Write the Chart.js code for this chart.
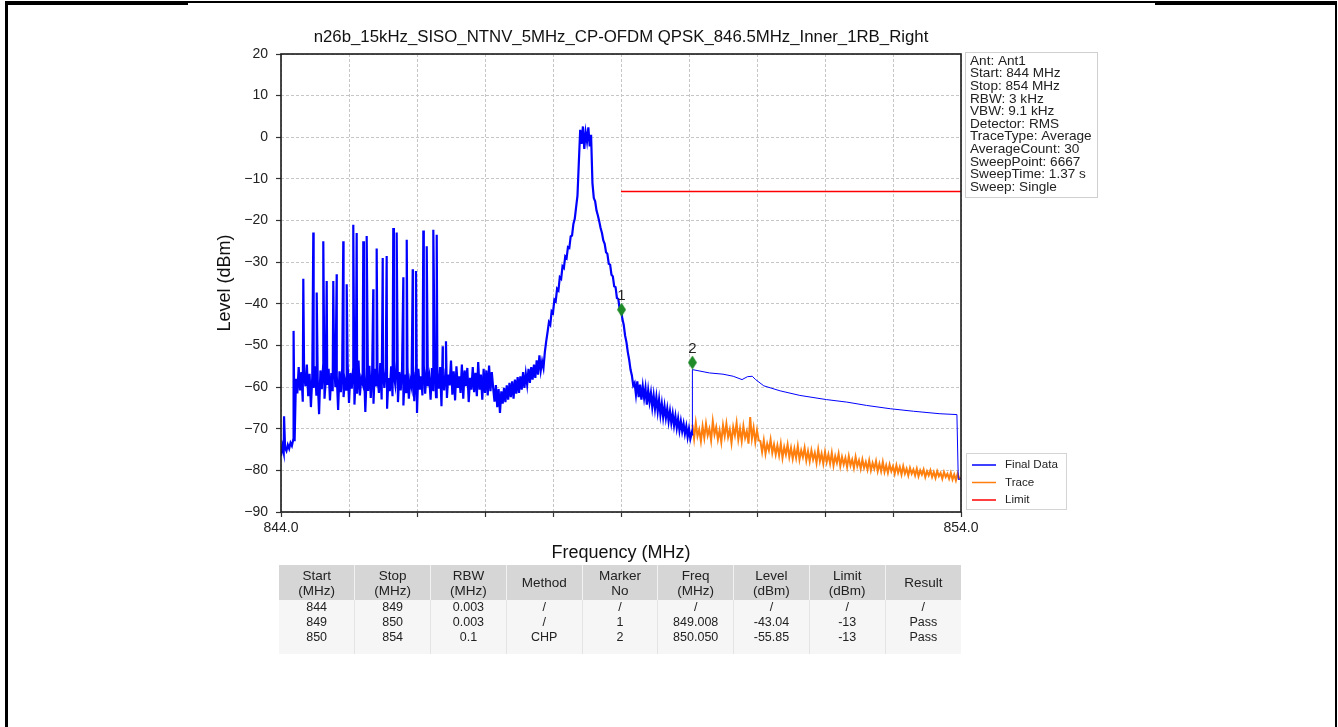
<!DOCTYPE html>
<html>
<head>
<meta charset="utf-8">
<title>n26b spectrum</title>
<script src="https://cdn.jsdelivr.net/npm/chart.js@4.4.1/dist/chart.umd.min.js"></script>
<style>
  html, body { margin: 0; padding: 0; background: #fff; }
  body { width: 1338px; height: 727px; position: relative; overflow: hidden; font-family: "Liberation Sans", Arial, sans-serif; }
  #frame { position: absolute; left: 5px; top: 1px; width: 1332px; height: 760px; box-sizing: border-box;
           border-top: 4px solid #000; border-left: 3px solid #000; border-right: 2px solid #000; }
  #frameThin { position: absolute; left: 188px; top: 3px; width: 967px; height: 2px; background: #fff; }
  #wrap { position: absolute; left: 0; top: 0; width: 1338px; height: 727px; }
  #tbl { position: absolute; left: 279px; top: 565px; width: 682px; border-collapse: collapse; table-layout: fixed; color: #222; }
  #tbl th { background: #d6d6d6; font-weight: normal; font-size: 13.5px; line-height: 15px; height: 35px; padding: 0;
            border-right: 1px solid #f2f2f2; text-align: center; }
  #tbl td { background: #f6f6f6; font-size: 12.5px; line-height: 15px; height: 15px; padding: 0;
            border-right: 1px solid #e4e4e4; text-align: center; }
  #tbl tr.pad td { height: 9px; }
  #tbl th:last-child, #tbl td:last-child { border-right: none; }
</style>
</head>
<body>
<div id="frame"></div>
<div id="frameThin"></div>
<div id="wrap"><canvas id="spectrum"></canvas></div>
<table id="tbl"><thead></thead><tbody></tbody></table>

<script>
// ---- chart data ----
const chartTitle = "n26b_15kHz_SISO_NTNV_5MHz_CP-OFDM QPSK_846.5MHz_Inner_1RB_Right";

// x tick labels: only the span ends are labelled
const xLabelValues = [844, 854];
const xTickText = ["844.0", "854.0"];

// blue trace, 844.00 .. 847.12 MHz, one value every 0.02 MHz
const lowBandStart = 844.0;
const binStep = 0.02;
const lowBandLevels = [
  -76.5, -74.2, -75.8, -74.6, -75.3, -73.9, -74.8, -73.4, -74.1, -72.6,
  -73.0,
  -58.0, -61.5, -55.2, -60.8, -56.4, -63.5, -57.0, -59.8, -54.6, -62.2,
  -56.8, -64.8, -57.5, -60.2, -55.0, -61.8, -58.2, -66.5, -56.0, -60.5,
  -54.8, -62.8, -57.8, -59.5, -55.6, -63.2, -56.6, -61.0, -53.8, -60.0,
  -57.2, -65.5, -56.2, -61.2, -55.4, -62.4, -58.6, -60.6, -54.4, -63.8,
  -56.6, -60.4, -55.8, -64.2, -57.4, -61.6, -53.6, -62.0, -58.0, -59.2,
  -55.2, -66.0, -57.0, -60.9, -54.9, -62.6, -56.8, -64.0, -55.6, -59.6,
  -57.6, -61.4, -54.2, -63.0, -56.2, -60.2, -55.4, -65.2, -57.8, -61.0,
  -55.0, -62.2, -57.2, -59.4, -54.0, -63.6, -56.4, -60.8, -55.8, -64.4,
  -57.0, -61.2, -55.2, -62.8, -58.4, -60.0, -54.6, -63.4, -56.6, -66.2,
  -55.6, -60.6, -57.4, -62.0, -54.8, -61.6, -56.0, -59.8, -57.6, -63.0,
  -55.4, -61.0, -53.8, -62.4, -56.8, -60.4, -55.2, -64.6, -57.2, -60.8,
  -55.8, -62.6, -57.0, -59.6, -53.6, -61.8, -56.2, -63.2, -55.0, -60.2,
  -57.4, -61.4, -54.6, -62.8, -56.0, -59.8, -55.4, -63.6, -57.8, -60.6,
  -55.2, -61.2, -56.6, -62.2, -54.0, -60.6, -57.0, -63.0, -55.6, -61.4,
  -56.0, -62.0, -54.8, -61.0, -56.4, -60.2
];

// narrow spurs sitting on the low band
const spikeFreqs = [
  844.045, 844.185, 844.328, 844.475, 844.525, 844.622, 844.672, 844.769, 844.819, 844.916,
  844.966, 845.063, 845.113, 845.210, 845.260, 845.357, 845.407, 845.496, 845.554, 845.651,
  845.701, 845.799, 845.849, 845.937, 845.985, 846.093, 846.143, 846.240, 846.290, 846.378,
  846.426
];
const spikeLevels = [
  -67.0, -46.5, -34.0, -22.9, -37.3, -25.0, -34.5, -34.5, -32.9, -25.0,
  -35.3, -21.0, -23.0, -25.0, -23.7, -36.5, -26.7, -29.0, -28.5, -21.8,
  -22.9, -33.6, -24.6, -31.7, -32.1, -22.4, -26.2, -22.2, -23.4, -50.2,
  -49.0
];

// blue trace, 847.14 .. 850.04 MHz (carrier and skirts), every 0.02 MHz
const carrierStart = 847.14;
const carrierLevels = [
  -63.5, -59.5, -64.8, -60.5, -66.2, -61.0, -64.0, -60.2, -63.6,
  -59.6, -63.0, -59.0, -62.4, -58.6, -62.8, -58.2, -61.6, -57.6, -61.4,
  -57.4, -60.6, -56.4, -60.2, -56.8, -59.4, -55.6, -59.0, -55.2, -58.2,
  -54.6, -57.8, -53.6, -57.0, -52.4, -56.0, -53.8, -55.4, -51.6,
  -49.0, -46.8, -44.4, -45.0, -41.8, -42.2, -39.0, -39.4, -36.4, -36.8,
  -33.6, -34.0, -31.0, -31.4, -28.6, -29.0, -26.4, -26.6, -23.8, -23.6,
  -20.8, -19.6, -16.8, -14.0, -6.0,
  1.8, -1.6, 2.6, -2.8, 1.2, -1.0, 2.4, -2.2, 0.6,
  -11.0, -14.6, -15.4, -17.6, -18.8, -20.2, -21.8, -23.0, -24.8, -25.6,
  -27.6, -28.0, -30.4, -30.6, -33.0, -33.4, -35.8, -36.0, -38.6, -38.8,
  -41.2, -41.4, -43.6, -45.0, -47.6, -49.2, -51.6, -53.4, -55.8, -57.2,
  -59.6, -59.0,
  -61.8, -58.6, -62.4, -59.4, -63.0, -59.8, -62.6, -60.2, -64.2, -60.8,
  -63.6, -61.4, -64.8, -62.0, -65.2, -62.4, -65.8, -63.0, -66.6, -64.0,
  -67.2, -64.6, -67.4, -65.2, -68.2, -65.8, -68.6, -66.4, -69.2, -67.0,
  -69.8, -67.6, -70.4, -68.2, -70.6, -68.8, -71.2, -69.4, -72.0, -70.0,
  -72.4, -71.0
];

// blue channel-power result line, 850.05 .. 854 MHz
const chpFreqs = [850.05, 850.05, 850.30, 850.50, 850.65, 850.78, 850.86, 850.93, 850.98, 851.10,
  851.34, 851.63, 852.02, 852.32, 852.61, 852.96, 853.30, 853.69, 853.94, 853.96, 854.0];
const chpLevels = [-71.6, -55.8, -56.6, -56.9, -57.4, -58.2, -57.5, -57.4, -58.2, -59.7,
  -60.9, -62.0, -63.0, -63.6, -64.4, -65.2, -65.8, -66.4, -66.6, -82.2, -82.0];

// orange trace, 850.05 .. 854.00 MHz, every 0.025 MHz
const traceStart = 850.05;
const traceStep = 0.025;
const traceLevels = [
  -69.0, -72.4, -68.6, -71.8, -70.2, -73.0, -69.4, -72.2, -68.8, -71.6,
  -70.0, -72.8, -68.2, -71.4, -69.6, -72.6, -70.4, -73.2, -69.2, -71.8,
  -68.8, -72.0, -70.2, -73.4, -69.6, -71.6, -68.6, -72.6, -70.0, -73.0,
  -69.4, -72.2, -70.6, -73.6, -67.2, -72.4, -69.8, -73.2, -70.4, -72.8,
  -73.0, -75.6, -72.8, -76.0, -73.6, -75.2, -72.6, -75.8, -73.8, -76.2,
  -74.0, -76.4, -73.6, -77.0, -74.4, -76.2, -73.8, -76.8, -74.6, -77.2,
  -74.8, -77.0, -74.2, -77.4, -75.2, -76.8, -74.6, -77.6, -75.4, -77.8,
  -75.2, -77.4, -75.8, -78.2, -75.0, -77.8, -76.0, -78.4, -75.6, -78.0,
  -76.2, -78.4, -75.8, -78.8, -76.6, -78.2, -76.0, -79.0, -76.8, -78.6,
  -77.0, -79.2, -76.6, -78.8, -77.4, -79.4, -76.8, -79.0, -77.6, -79.6,
  -77.4, -79.4, -78.0, -79.8, -77.6, -80.0, -78.2, -79.6, -77.8, -80.2,
  -78.4, -80.2, -78.0, -80.4, -78.8, -80.6, -78.6, -80.2, -79.0, -80.8,
  -78.8, -80.6, -79.2, -81.0, -79.0, -80.8, -79.6, -81.2, -79.4, -80.8,
  -79.8, -81.2, -79.6, -81.4, -80.0, -81.0, -79.8, -81.6, -80.2, -81.2,
  -80.0, -81.6, -80.4, -81.8, -80.2, -81.4, -80.6, -82.0, -80.4, -81.6,
  -80.8, -82.0, -80.6, -82.2, -81.0, -82.4, -80.8, -82.0,
  -81.8
];

// limit line
const limitFreqs = [849, 854];
const limitLevels = [-13, -13];

// markers as drawn on the plot
const markerNames = ["1", "2"];
const markerFreqs = [849.008, 850.05];
const markerLevels = [-41.4, -54.1];

// info box and legend texts
const infoLines = ["Ant: Ant1", "Start: 844 MHz", "Stop: 854 MHz", "RBW: 3 kHz", "VBW: 9.1 kHz",
  "Detector: RMS", "TraceType: Average", "AverageCount: 30", "SweepPoint: 6667",
  "SweepTime: 1.37 s", "Sweep: Single"];

// result table
const tableHeader = ["Start<br>(MHz)", "Stop<br>(MHz)", "RBW<br>(MHz)", "Method", "Marker<br>No",
  "Freq<br>(MHz)", "Level<br>(dBm)", "Limit<br>(dBm)", "Result"];
const tableRows = [
  ["844", "849", "0.003", "/", "/", "/", "/", "/", "/"],
  ["849", "850", "0.003", "/", "1", "849.008", "-43.04", "-13", "Pass"],
  ["850", "854", "0.1", "CHP", "2", "850.050", "-55.85", "-13", "Pass"]
];

// ---- build point lists ----
function binned(start, step, levels) {
  return levels.map((v, i) => ({ x: +(start + i * step).toFixed(4), y: v }));
}
function paired(freqs, levels) {
  return freqs.map((f, i) => ({ x: f, y: levels[i] }));
}

const lowBand = binned(lowBandStart, binStep, lowBandLevels)
  .concat(paired(spikeFreqs, spikeLevels))
  .sort((a, b) => a.x - b.x);
const finalData = lowBand
  .concat(binned(carrierStart, binStep, carrierLevels))
  .concat(paired(chpFreqs, chpLevels));
const traceData = binned(traceStart, traceStep, traceLevels);
const limitData = paired(limitFreqs, limitLevels);
const markerData = paired(markerFreqs, markerLevels);

const FONT = '"Liberation Sans", Arial, sans-serif';
const legendItems = [
  { label: "Final Data", color: "#0000ff" },
  { label: "Trace", color: "#ff7f0e" },
  { label: "Limit", color: "#ff0000" }
];

// elongated green diamond used for the markers
function diamond(w, h, color) {
  const c = document.createElement("canvas");
  c.width = w; c.height = h;
  const g = c.getContext("2d");
  g.fillStyle = color;
  g.beginPath();
  g.moveTo(w / 2, 0); g.lineTo(w, h / 2); g.lineTo(w / 2, h); g.lineTo(0, h / 2);
  g.closePath(); g.fill();
  return c;
}

// frame, title, marker labels, info box and legend
const decorPlugin = {
  id: "decor",
  afterDatasetsDraw(chart) {
    const { ctx, chartArea: a } = chart;
    ctx.save();
    ctx.strokeStyle = "#1a1a1a";
    ctx.lineWidth = 1.6;
    ctx.strokeRect(a.left, a.top, a.right - a.left, a.bottom - a.top);

    const meta = chart.getDatasetMeta(3);
    ctx.fillStyle = "#222";
    ctx.font = "15px " + FONT;
    ctx.textAlign = "center";
    ctx.textBaseline = "middle";
    meta.data.forEach((pt, i) => ctx.fillText(markerNames[i], pt.x, pt.y - 14));
    ctx.restore();
  },
  afterDraw(chart) {
    const { ctx, chartArea: a } = chart;
    ctx.save();
    // title
    ctx.fillStyle = "#111";
    ctx.font = "16.8px " + FONT;
    ctx.textAlign = "center";
    ctx.textBaseline = "middle";
    ctx.fillText(chartTitle, (a.left + a.right) / 2, 37);

    // info box
    ctx.fillStyle = "#fff";
    ctx.fillRect(965, 52, 132, 145);
    ctx.strokeStyle = "#cfcfcf";
    ctx.lineWidth = 1;
    ctx.strokeRect(965.5, 52.5, 132, 145);
    ctx.fillStyle = "#222";
    ctx.font = "13.6px " + FONT;
    ctx.textAlign = "left";
    infoLines.forEach((t, i) => ctx.fillText(t, 970, 61 + i * 12.6));

    // legend box
    ctx.fillStyle = "#fff";
    ctx.fillRect(966, 453, 100, 56);
    ctx.strokeStyle = "#d4d4d4";
    ctx.strokeRect(966.5, 453.5, 100, 56);
    ctx.font = "11.6px " + FONT;
    legendItems.forEach((it, i) => {
      const yy = 465 + i * 17.5;
      ctx.strokeStyle = it.color;
      ctx.lineWidth = 1.5;
      ctx.beginPath(); ctx.moveTo(972, yy); ctx.lineTo(996, yy); ctx.stroke();
      ctx.fillStyle = "#222";
      ctx.fillText(it.label, 1005, yy);
    });
    ctx.restore();
  }
};

const minusSign = (v) => String(v).replace("-", "\u2212");

new Chart(document.getElementById("spectrum"), {
  type: "line",
  data: {
    datasets: [
      { label: "Final Data", data: finalData, borderColor: "#0000ff", borderWidth: 2.2, pointRadius: 0, order: 1,
        // the channel-power line after 850.05 MHz is drawn thin
        segment: { borderWidth: (c) => (c.p0.parsed.x >= 850.05 ? 1 : undefined) } },
      { label: "Trace", data: traceData, borderColor: "#ff7f0e", borderWidth: 2, pointRadius: 0, order: 2 },
      { label: "Limit", data: limitData, borderColor: "#ff0000", borderWidth: 1.5, pointRadius: 0, order: 3 },
      { label: "Marker", data: markerData, showLine: false, pointStyle: diamond(9, 14, "#1e8a28"),
        pointRadius: 6, order: 0 }
    ]
  },
  options: {
    responsive: true,
    maintainAspectRatio: false,
    animation: false,
    events: [],
    layout: { padding: { left: 200, top: 54, right: 377, bottom: 155 } },
    plugins: { legend: { display: false }, tooltip: { enabled: false }, title: { display: false } },
    scales: {
      x: {
        type: "linear", min: 844, max: 854,
        afterFit: (s) => { s.height = 60; },
        ticks: {
          stepSize: 1, autoSkip: false, maxRotation: 0, padding: 3,
          color: "#222", font: { family: FONT, size: 14 },
          callback: (v) => { const k = xLabelValues.indexOf(v); return k >= 0 ? xTickText[k] : ""; }
        },
        grid: { color: "#c6c6c6", lineWidth: 1, tickLength: 5, tickColor: "#333", tickWidth: 1.2 },
        border: { display: false, dash: [3, 2] },
        title: { display: true, text: "Frequency (MHz)", color: "#111",
                 font: { family: FONT, size: 18 }, padding: { top: 0, bottom: 8 } }
      },
      y: {
        min: -90, max: 20,
        afterFit: (s) => { s.width = 81; },
        ticks: { stepSize: 10, padding: 8, color: "#222", font: { family: FONT, size: 14 }, callback: minusSign },
        grid: { color: "#c6c6c6", lineWidth: 1, tickLength: 5, tickColor: "#333", tickWidth: 1.2 },
        border: { display: false, dash: [3, 2] },
        title: { display: true, text: "Level (dBm)", color: "#111",
                 font: { family: FONT, size: 18 }, padding: { top: 14, bottom: 0 } }
      }
    }
  },
  plugins: [decorPlugin]
});

// ---- table below the plot ----
const thead = document.querySelector("#tbl thead");
thead.innerHTML = "<tr>" + tableHeader.map((h) => "<th>" + h + "</th>").join("") + "</tr>";
const tbody = document.querySelector("#tbl tbody");
tbody.innerHTML = tableRows.map((r) => "<tr>" + r.map((c) => "<td>" + c + "</td>").join("") + "</tr>").join("")
  + "<tr class='pad'>" + tableHeader.map(() => "<td></td>").join("") + "</tr>";
</script>
</body>
</html>
